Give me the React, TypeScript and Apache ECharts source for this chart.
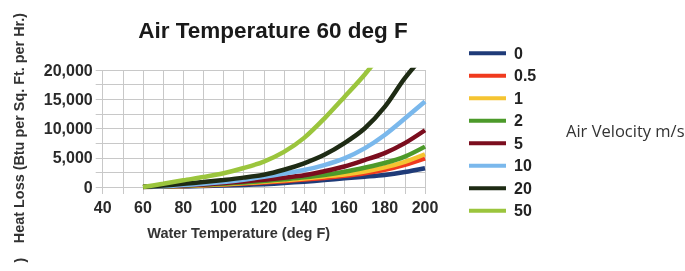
import React, { useEffect, useRef } from "react";
import * as echarts from "echarts";

const title = "Air Temperature 60 deg F";
const xName = "Water Temperature (deg F)";
const yName = "Heat Loss (Btu per Sq. Ft. per Hr.)";
const sideNote = "Air Velocity m/s";

const temps = [60, 70, 80, 90, 100, 110, 120, 130, 140, 150, 160, 170, 180, 190, 200];
const seriesNames = ["0", "0.5", "1", "2", "5", "10", "20", "50"];
const v0 = [0, 40, 100, 170, 250, 350, 480, 680, 910, 1180, 1480, 1750, 2050, 2550, 3200];
const v05 = [0, 70, 160, 280, 420, 580, 770, 1000, 1270, 1550, 1900, 2350, 2950, 3800, 4900];
const v1 = [0, 80, 190, 320, 480, 670, 890, 1150, 1450, 1800, 2150, 2650, 3350, 4300, 5600];
const v2 = [0, 90, 220, 370, 560, 780, 1030, 1330, 1650, 2050, 2600, 3300, 4100, 5200, 6900];
const v5 = [0, 110, 260, 440, 680, 950, 1250, 1600, 2000, 2700, 3500, 4600, 5800, 7500, 9700];
const v10 = [0, 130, 320, 550, 850, 1250, 1750, 2300, 2900, 3750, 4900, 6600, 8900, 11700, 14600];
const v20 = [0, 250, 550, 850, 1200, 1600, 2100, 2950, 4050, 5500, 7500, 10000, 13700, 18600, 22700];
const v50 = [0, 550, 1150, 1700, 2350, 3250, 4350, 6000, 8400, 11700, 15400, 19200, 23500];
const colors = ["#1f3b78", "#f03a1e", "#f5c431", "#4c9a2a", "#7b0d1e", "#7ab8ec", "#1e2b14", "#9bc53d"];

const allValues = [v0, v05, v1, v2, v5, v10, v20, v50];

export default function App() {
  const ref = useRef<HTMLDivElement>(null);
  useEffect(() => {
    if (!ref.current) return;
    const chart = echarts.init(ref.current, null, { renderer: "svg" });
    const font = "'Liberation Sans', Arial, sans-serif";
    chart.setOption({
      animation: false,
      grid: { left: 102.7, right: 260, top: 70, bottom: 84 },
      xAxis: {
        type: "value",
        min: 40,
        max: 200,
        interval: 10,
        axisLine: { show: false },
        axisTick: { show: true, length: 7, lineStyle: { color: "#c8c8c8" } },
        splitLine: { show: true, lineStyle: { color: "#c8c8c8", width: 1 } },
        axisLabel: {
          fontFamily: font,
          fontSize: 16,
          fontWeight: "bold",
          color: "#2a2a2a",
          margin: 12,
          formatter: (v: number) => (v % 20 === 0 ? String(v) : ""),
        },
      },
      yAxis: {
        type: "value",
        min: 0,
        max: 20000,
        interval: 2500,
        axisLine: { show: false },
        axisTick: { show: true, length: 7, lineStyle: { color: "#c8c8c8" } },
        splitLine: { show: true, lineStyle: { color: "#c8c8c8", width: 1 } },
        axisLabel: {
          fontFamily: font,
          fontSize: 16,
          fontWeight: "bold",
          color: "#2a2a2a",
          margin: 10,
          formatter: (v: number) => (v % 5000 === 0 ? v.toLocaleString("en-US") : ""),
        },
      },
      legend: {
        orient: "vertical",
        left: 469,
        top: 44,
        padding: 0,
        itemWidth: 37,
        itemHeight: 4,
        itemGap: 4,
        icon: "rect",
        data: seriesNames,
        textStyle: { fontFamily: font, fontSize: 16, fontWeight: "bold", color: "#222", lineHeight: 18.5, padding: [0, 0, 0, 3] },
      },
      graphic: [
        {
          type: "text",
          x: 273,
          y: 30,
          style: {
            text: title,
            fontFamily: font,
            fontSize: 22.5,
            fontWeight: "bold",
            fill: "#1a1a1a",
            textAlign: "center",
            textVerticalAlign: "middle",
          },
        },
        {
          type: "text",
          x: 238.7,
          y: 232.5,
          style: {
            text: xName,
            fontFamily: font,
            fontSize: 14.5,
            fontWeight: "bold",
            fill: "#333",
            textAlign: "center",
            textVerticalAlign: "middle",
          },
        },
        {
          type: "text",
          x: 19,
          y: 128,
          rotation: Math.PI / 2,
          style: {
            text: yName,
            fontFamily: font,
            fontSize: 14.4,
            fontWeight: "bold",
            fill: "#333",
            textAlign: "center",
            textVerticalAlign: "middle",
          },
        },
        {
          type: "text",
          x: 20,
          y: 260,
          rotation: Math.PI / 2,
          style: {
            text: ")",
            fontFamily: font,
            fontSize: 14.4,
            fontWeight: "bold",
            fill: "#333",
            textAlign: "center",
            textVerticalAlign: "middle",
          },
        },
        {
          type: "text",
          x: 566,
          y: 130,
          style: {
            text: sideNote,
            fontFamily: "'Open Sans', sans-serif",
            fontSize: 16.5,
            fill: "#333",
            textAlign: "left",
            textVerticalAlign: "middle",
          },
        },
      ],
      series: seriesNames.map((name, i) => ({
        name,
        type: "line",
        data: allValues[i].map((v, j) => [temps[j], v]),
        smooth: 0.3,
        showSymbol: false,
        clip: true,
        color: colors[i],
        lineStyle: { width: 4.5, color: colors[i] },
      })),
    });
    return () => chart.dispose();
  }, []);
  return <div ref={ref} style={{ position: "fixed", left: 0, top: 0, width: 685, height: 271 }} />;
}
